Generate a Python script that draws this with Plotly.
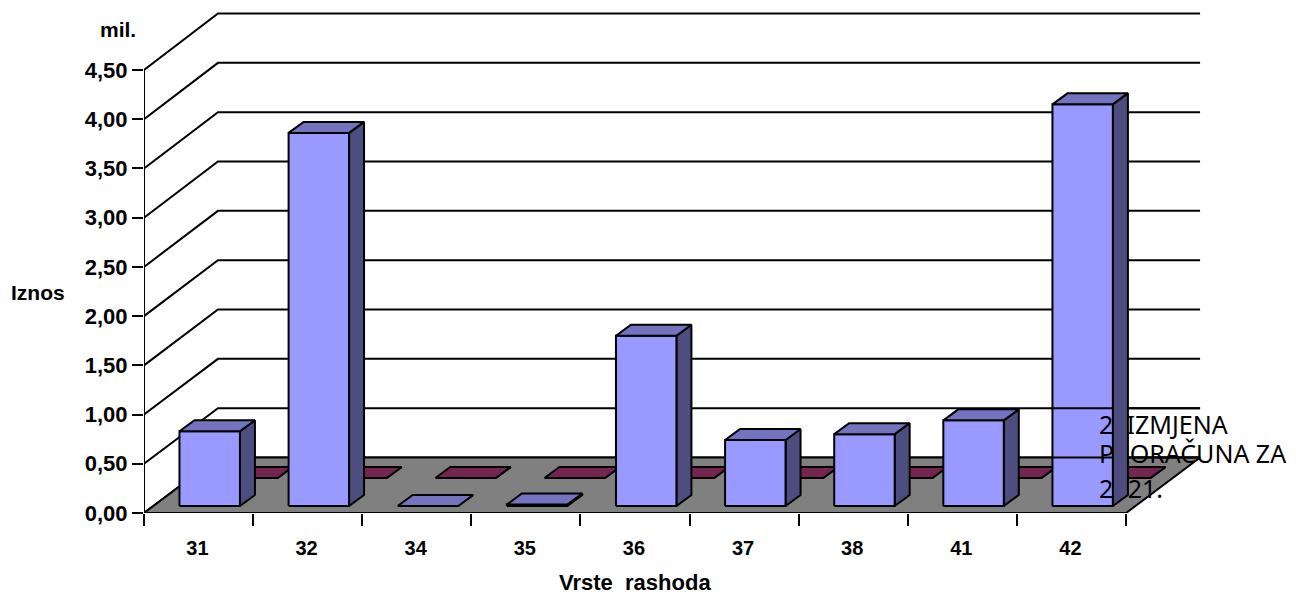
import plotly.graph_objects as go

# ---- data ----
categories = ["31", "32", "34", "35", "36", "37", "38", "41", "42"]
front_values = [0.76, 3.79, 0.0, 0.015, 1.73, 0.67, 0.73, 0.87, 4.08]
back_values = [0, 0, 0, 0, 0, 0, 0, 0, 0]
y_ticks = [0, 0.5, 1, 1.5, 2, 2.5, 3, 3.5, 4, 4.5]
y_tick_labels = ["0,00", "0,50", "1,00", "1,50", "2,00", "2,50", "3,00", "3,50", "4,00", "4,50"]

# ---- geometry (pixels per axis unit and perspective offsets) ----
W, H = 1296, 594
LEFT, BASE = 143.5, 513.0
UX, UY = 109.17, 98.44
DX, DY = 74 / UX, 55.5 / UY          # floor depth
BW, BDX, BDY = 60.5 / UX, 15 / UX, 11 / UY   # bar width / depth
ROW_FRONT = (0.325, 7 / UY)
ROW_BACK = (0.67, 35 / UY)
N = len(categories)

FRONT, TOP, SIDE = "#9999FF", "#7373BF", "#4D4D80"
M_FRONT, M_TOP, M_SIDE = "#993366", "#732650", "#4D1A33"
LW = 2

fig = go.Figure()


def poly(xs, ys, fill, width=LW):
    fig.add_trace(go.Scatter(x=xs + xs[:1], y=ys + ys[:1], mode="lines", fill="toself",
                             fillcolor=fill, line=dict(color="black", width=width),
                             hoverinfo="skip", showlegend=False))


def seg(xs, ys, width=LW):
    fig.add_trace(go.Scatter(x=xs, y=ys, mode="lines", line=dict(color="black", width=width),
                             hoverinfo="skip", showlegend=False))


def side(i, v, row, color):
    x0 = i + row[0] + BW
    y0 = row[1]
    poly([x0, x0 + BDX, x0 + BDX, x0], [y0, y0 + BDY, y0 + BDY + v, y0 + v], color)


def front_top(i, v, row, fc, tc):
    x0 = i + row[0]
    y0 = row[1]
    if v > 0:
        poly([x0, x0 + BW, x0 + BW, x0], [y0, y0, y0 + v, y0 + v], fc)
    poly([x0, x0 + BW, x0 + BW + BDX, x0 + BDX],
         [y0 + v, y0 + v, y0 + v + BDY, y0 + v + BDY], tc)


# walls
for t in y_ticks:
    seg([0, DX, DX + N], [t, t + DY + 0.0022 * t, t + DY + 0.0022 * t])
seg([0, 0], [0, y_ticks[-1]])

# floor
poly([0, N, N + DX, DX], [0, 0, DY, DY], "#808080")

# back row
for i, v in enumerate(back_values):
    side(i, v, ROW_BACK, M_SIDE)
    front_top(i, v, ROW_BACK, M_FRONT, M_TOP)

# front row (side of the last bar waits until after the legend)
for i, v in enumerate(front_values):
    if i < N - 1:
        side(i, v, ROW_FRONT, SIDE)
    front_top(i, v, ROW_FRONT, FRONT, TOP)

# legend lines and text run over the last bar's face
for t in y_ticks[:2]:
    seg([N - 1 + ROW_FRONT[0], N + DX], [t + DY, t + DY])
fig.add_trace(go.Scatter(
    x=[(1099 - LEFT) / UX] * 3,
    y=[(BASE - 428) / UY, (BASE - 457) / UY, (BASE - 492) / UY],
    mode="text", text=["2. IZMJENA", "PRORAČUNA ZA", "2021."], textposition="middle right",
    textfont=dict(family="Noto Sans", size=25, color="black"),
    hoverinfo="skip", showlegend=False))
side(N - 1, front_values[-1], ROW_FRONT, SIDE)

LABEL = dict(family="Liberation Sans", color="black")


def note(text, px, py, size):
    return dict(text="<b>%s</b>" % text, x=(px - LEFT) / (W - LEFT), y=(BASE - py) / BASE,
                xref="paper", yref="paper", xanchor="center", yanchor="middle",
                showarrow=False, font=dict(size=size, **LABEL))


fig.update_layout(
    width=W, height=H, autosize=False, showlegend=False,
    margin=dict(l=LEFT, r=0, t=0, b=H - BASE, pad=0),
    paper_bgcolor="white", plot_bgcolor="white",
    font=dict(family="Liberation Sans", color="black"),
    xaxis=dict(
        range=[0, (W - LEFT) / UX], showgrid=False, zeroline=False, showline=False,
        tickmode="array", tickvals=[i + 0.49 for i in range(N)],
        ticktext=["<b>%s</b>" % c for c in categories], ticks="", ticklabelstandoff=21,
        tickfont=dict(size=20, **LABEL),
        minor=dict(tickmode="array", tickvals=list(range(N + 1)), ticks="outside",
                   ticklen=12, tickwidth=LW, tickcolor="black", showgrid=False),
    ),
    yaxis=dict(
        range=[0, BASE / UY], showgrid=False, zeroline=False, showline=False,
        tickmode="array", tickvals=y_ticks,
        ticktext=["<b>%s</b>" % t for t in y_tick_labels], ticks="outside",
        ticklen=11, tickwidth=LW, tickcolor="black",
        tickfont=dict(size=22, **LABEL),
    ),
    annotations=[
        note("mil.", 117, 29, 21),
        note("Iznos", 37, 292, 21),
        note("Vrste\u00a0\u00a0rashoda", 635, 582, 22),
    ],
)

fig.write_html("out.html", config=dict(displayModeBar=False),
               post_script="document.body.style.margin='0';")
